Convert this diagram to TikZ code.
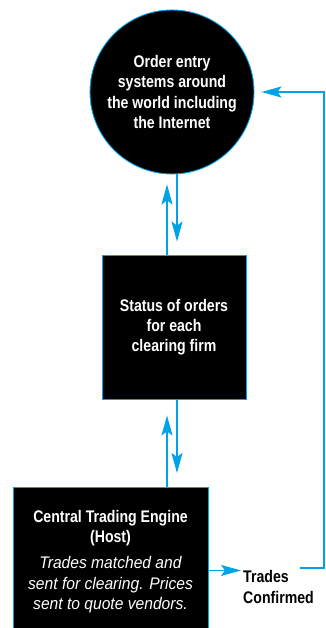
\documentclass[tikz,border=0pt]{standalone}
\usepackage{fontspec}
\setmainfont{Liberation Sans}[FakeStretch=0.84]
\newfontfamily\notefont{Liberation Sans}[FakeStretch=0.93]
\newcommand{\notestyle}{\notefont\mdseries\itshape}
\usetikzlibrary{arrows.meta,positioning}
\definecolor{flowblue}{RGB}{0,163,230}

\begin{document}
\begin{tikzpicture}[x=1pt,y=-1pt,>={Stealth[length=20pt,width=11pt,inset=4pt]},
 font=\fontsize{16.8pt}{20.3pt}\selectfont\bfseries,
 blk/.style={fill=black,draw=flowblue,line width=.9pt,text=white,align=center,inner sep=0pt},
 flow/.style={draw=flowblue,line width=1.1pt}]
\useasboundingbox (0,0) rectangle (325,628);
\node[blk,circle,minimum size=164pt] (entry) at (172,92)
 {Order entry\\systems around\\the world including\\the Internet};
\node[blk,minimum width=144pt,minimum height=144pt] (status) at (174,327)
 {Status of orders\\for each\\clearing firm};
\node[blk,anchor=north,minimum width=195pt,minimum height=148pt] (engine) at (110.5,487)
 {Central Trading Engine\\(Host)\\[6pt]
 \notestyle Trades matched and\\\notestyle sent for clearing. Prices\\\notestyle sent to quote vendors.};
\node[anchor=west,align=left,inner sep=2pt] (confirmed) at (241,587) {Trades\\Confirmed};
\coordinate (turn) at (324,568);
% two-way links
\draw[flow,->,shorten >=10pt] ([xshift=-5pt]entry.south |- status.north) -- ([xshift=-5pt]entry.south);
\draw[flow,->,shorten >=13pt] ([xshift=5pt]entry.south) -- ([xshift=5pt]entry.south |- status.north);
\draw[flow,->,shorten >=16pt] ([xshift=-5pt]entry.south |- engine.north) -- ([xshift=-5pt]entry.south |- status.south);
\draw[flow,->,shorten >=14pt] ([xshift=5pt]entry.south |- status.south) -- ([xshift=5pt]entry.south |- engine.north);
% confirmation loop
\draw[flow,->] ([yshift=-9pt]engine.east) -- ([yshift=-9pt]engine.east -| confirmed.west);
\draw[flow,->,shorten >=7pt] ([xshift=-24pt]turn) -- (turn) |- (entry.east);
\end{tikzpicture}
\end{document}
